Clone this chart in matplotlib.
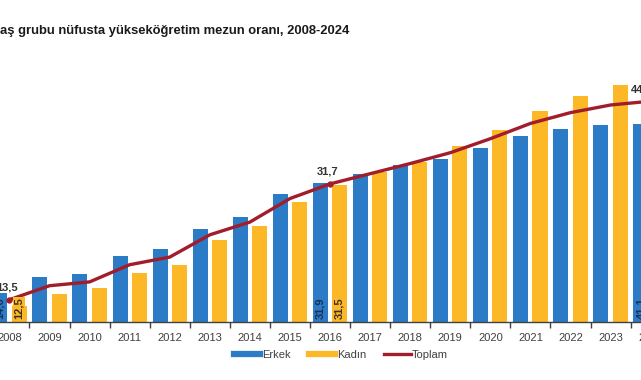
"""
Taux de diplômés du supérieur (Erkek / Kadın / Toplam), 2008-2024.

Reproduction d'un graphique en barres groupées avec une courbe du total.
Le visuel d'origine est recadré : l'axe déborde à gauche et à droite.
"""

import matplotlib.pyplot as plt
import numpy as np

# Données
yillar = ["2008", "2009", "2010", "2011", "2012", "2013", "2014", "2015", "2016",
          "2017", "2018", "2019", "2020", "2021", "2022", "2023", "2024"]
erkek = [14.6, 17.0, 17.5, 20.3, 21.4, 24.6, 26.5, 30.1, 31.9,
         33.2, 34.6, 35.6, 37.4, 39.3, 40.3, 40.9, 41.1]
kadin = [12.5, 14.4, 15.3, 17.7, 19.0, 22.9, 25.1, 28.8, 31.5,
         33.5, 35.1, 37.7, 40.2, 43.2, 45.5, 47.3, 48.3]
toplam = [13.5, 15.7, 16.3, 19.0, 20.2, 23.7, 25.7, 29.4, 31.7,
          33.3, 34.9, 36.6, 38.8, 41.2, 42.9, 44.1, 44.7]
baslik = "aş grubu nüfusta yükseköğretim mezun oranı, 2008-2024"

# Années dont les valeurs sont étiquetées
etiquettes_toplam = ["2008", "2016", "2024"]
etiquettes_barres = ["2008", "2016", "2024"]

BLEU = "#2b7bc6"
JAUNE = "#fdb827"
ROUGE = "#a11d2b"


def fmt(v: float) -> str:
    """Format décimal à la turque (virgule)."""
    return f"{v:.1f}".replace(".", ",")


def main() -> None:
    plt.rcParams["font.family"] = ["Liberation Sans", "DejaVu Sans"]
    fig = plt.figure(figsize=(6.41, 3.8), dpi=100)
    ax = fig.add_axes([0, 58 / 380, 1, 322 / 380])

    x = np.arange(len(yillar))
    largeur = 0.375
    decal = 0.24
    ax.bar(x - decal, erkek, largeur, color=BLEU, label="Erkek", zorder=2)
    ax.bar(x + decal, kadin, largeur, color=JAUNE, label="Kadın", zorder=2)
    ax.plot(x, toplam, color=ROUGE, lw=2.4, solid_joinstyle="round",
            solid_capstyle="round", label="Toplam", zorder=3)

    # Points et étiquettes de la courbe (la dernière est un peu décalée)
    for an in etiquettes_toplam:
        i = yillar.index(an)
        dx = -6 if an == yillar[-1] else -2
        ax.plot(x[i], toplam[i], "o", color=ROUGE, ms=3.5, zorder=4)
        ax.annotate(fmt(toplam[i]), (x[i], toplam[i]), xytext=(dx, 5),
                    textcoords="offset points", ha="center", va="bottom",
                    fontsize=8, fontweight="bold", color="#333333",
                    annotation_clip=False)

    # Étiquettes verticales au pied des barres
    for an in etiquettes_barres:
        i = yillar.index(an)
        ax.text(x[i] - decal, 10.4, fmt(erkek[i]), rotation=90, ha="center",
                va="bottom", fontsize=8, fontweight="bold", color="#1c2f55",
                zorder=5)
        boite = None
        if kadin[i] < 16:
            boite = dict(boxstyle="square,pad=0.1", fc=JAUNE, ec="none")
        ax.text(x[i] + decal, 10.4, fmt(kadin[i]), rotation=90, ha="center",
                va="bottom", fontsize=8, fontweight="bold", color="#3b3322",
                bbox=boite, zorder=5)

    ax.set_xticks(x)
    ax.set_xticklabels(yillar, fontsize=8, color="#404040")
    ax.set_xticks(x[:-1] + 0.5, minor=True)
    ax.tick_params(axis="x", which="major", length=0, pad=8)
    ax.tick_params(axis="x", which="minor", length=4, width=1, color="#404040")
    ax.set_yticks([])
    # après set_xticks, sinon les limites sont élargies
    ax.set_xlim(-0.235, 15.76)
    ax.set_ylim(10, 60.6)
    for cote in ["top", "left", "right"]:
        ax.spines[cote].set_visible(False)
    ax.spines["bottom"].set_color("#404040")
    ax.spines["bottom"].set_linewidth(1)
    ax.set_facecolor("none")

    # La dernière année sort des limites : matplotlib ne l'affiche pas seule
    ax.annotate(yillar[-1], (x[-1], 0), xycoords=("data", "axes fraction"),
                xytext=(0, -8), textcoords="offset points", ha="center",
                va="top", fontsize=8, color="#404040", annotation_clip=False)

    fig.text(0.0, 1 - 31 / 380, baslik, ha="left", va="center",
             fontsize=9.4, fontweight="bold", color="#1a1a1a")

    poignees = [
        plt.Line2D([], [], color=BLEU, lw=4.5),
        plt.Line2D([], [], color=JAUNE, lw=4.5),
        plt.Line2D([], [], color=ROUGE, lw=2.4),
    ]
    fig.legend(poignees, ["Erkek", "Kadın", "Toplam"], loc="center",
               bbox_to_anchor=(341 / 641, 1 - 355 / 380), ncol=3, frameon=False,
               fontsize=8, handlelength=2.4, handletextpad=0.15,
               columnspacing=1.6, labelcolor="#404040")

    fig.savefig("out.png", dpi=100)
    plt.close(fig)


if __name__ == "__main__":
    main()
